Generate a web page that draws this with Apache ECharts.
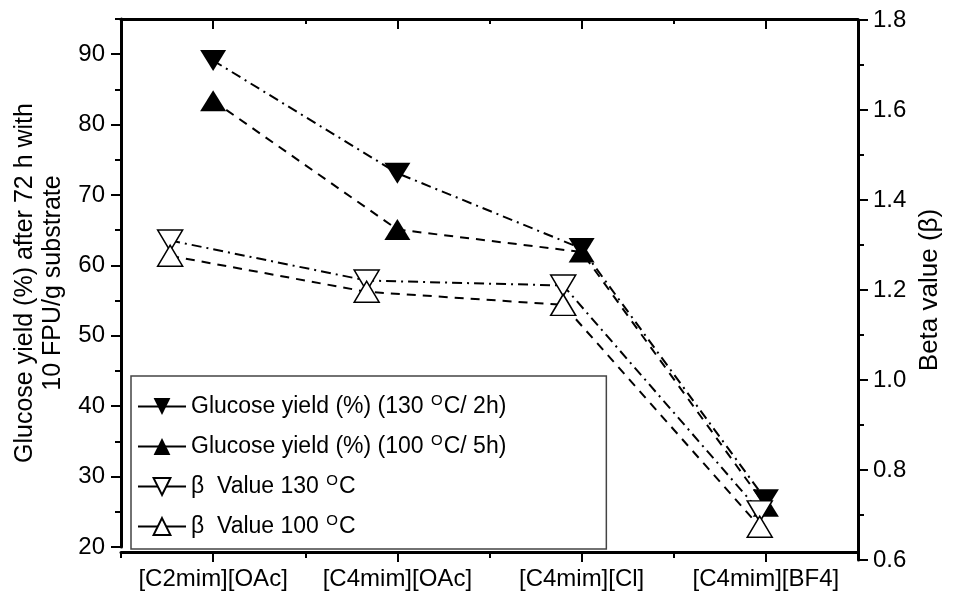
<!DOCTYPE html>
<html>
<head>
<meta charset="utf-8">
<script src="https://cdn.jsdelivr.net/npm/echarts@6/dist/echarts.min.js"></script>
<style>
  html, body { margin: 0; padding: 0; background: #fff; }
  #chart { width: 953px; height: 594px; }
</style>
</head>
<body>
<div id="chart"></div>
<script>
// Ionic liquids pretreatment: glucose yield and Kamlet-Taft beta value
const categories = ['[C2mim][OAc]', '[C4mim][OAc]', '[C4mim][Cl]', '[C4mim][BF4]'];
const catPos = [1, 2, 3, 4];
const catMidPos = [0.5, 1.5, 2.5, 3.5, 4.5];

const glucose130 = [89.1, 73.1, 62.4, 26.7];   // % yield, 130 °C / 2 h
const glucose100 = [83.4, 65.1, 61.9, 25.8];   // % yield, 100 °C / 5 h
const beta130 = [1.31, 1.221, 1.21, 0.708];    // beta value, 130 °C
const beta100 = [1.276, 1.196, 1.167, 0.674];  // beta value, 100 °C

const yieldTicks = [20, 30, 40, 50, 60, 70, 80, 90];
const yieldMinorTicks = [25, 35, 45, 55, 65, 75, 85, 95];
const betaTicks = [0.6, 0.8, 1.0, 1.2, 1.4, 1.6, 1.8];

const seriesNames = [
  'Glucose yield (%) (130 OC/ 2h)',
  'Glucose yield (%) (100 OC/ 5h)',
  'β Value 130 OC',
  'β Value 100 OC'
];
const legendRich = {};
legendRich[seriesNames[0]] = '{t|Glucose yield (%) (130 }{s|O}{t|C/ 2h)}';
legendRich[seriesNames[1]] = '{t|Glucose yield (%) (100 }{s|O}{t|C/ 5h)}';
legendRich[seriesNames[2]] = '{t|β  Value 130 }{s|O}{t|C}';
legendRich[seriesNames[3]] = '{t|β  Value 100 }{s|O}{t|C}';

const FONT = '"Liberation Sans", Arial, Helvetica, sans-serif';
const BLACK = '#000';
const dashDot = [10, 5, 2, 5];
const dashed = [9, 7];

const pairs = (xs, ys) => ys.map((v, i) => [xs[i], v]);

const chart = echarts.init(document.getElementById('chart'), null, { renderer: 'canvas' });

const axisLine = { show: true, lineStyle: { color: BLACK, width: 3 } };

function catAxis(opts) {
  return Object.assign({
    type: 'value', gridIndex: 0, min: 0.5, max: 4.5,
    splitLine: { show: false },
    axisLine: { show: false },
    axisLabel: { show: false },
    axisTick: { show: false }
  }, opts);
}

const option = {
  backgroundColor: '#fff',
  animation: false,
  grid: [
    { left: 121, right: 95, top: 19, bottom: 47 },
    { left: 121, right: 95, top: 20, bottom: 34 }
  ],
  xAxis: [
    // bottom axis with category labels
    catAxis({
      position: 'bottom', offset: 5,
      axisLine: axisLine,
      axisTick: { show: true, inside: false, length: 10, customValues: catPos, lineStyle: { color: BLACK, width: 2 } },
      axisLabel: {
        show: true, customValues: catPos, margin: 15,
        color: BLACK, fontFamily: FONT, fontSize: 24,
        formatter: v => categories[Math.round(v) - 1] || ''
      }
    }),
    // bottom minor ticks between categories
    catAxis({
      position: 'bottom', offset: 5,
      axisTick: { show: true, inside: false, length: 6, customValues: catMidPos, lineStyle: { color: BLACK, width: 2 } }
    }),
    // top frame with inward ticks
    catAxis({
      position: 'top',
      axisLine: axisLine,
      axisTick: { show: true, inside: true, length: 10, customValues: catPos, lineStyle: { color: BLACK, width: 2 } }
    }),
    catAxis({
      position: 'top',
      axisTick: { show: true, inside: true, length: 5, customValues: catMidPos, lineStyle: { color: BLACK, width: 2 } }
    }),
    // x scale of the beta layer
    {
      type: 'value', gridIndex: 1, min: 0.75, max: 4.5, show: false,
      splitLine: { show: false }
    }
  ],
  yAxis: [
    {
      type: 'value', gridIndex: 0, position: 'left', min: 20, max: 95, interval: 10,
      name: 'Glucose yield (%) after 72 h with\n10 FPU/g substrate',
      nameLocation: 'middle', nameRotate: 90, nameGap: 50,
      nameTextStyle: { color: BLACK, fontFamily: FONT, fontSize: 25, lineHeight: 28, align: 'center' },
      splitLine: { show: false },
      axisLine: axisLine,
      axisTick: { show: true, length: 10, customValues: yieldTicks, lineStyle: { color: BLACK, width: 2 } },
      axisLabel: { customValues: yieldTicks, margin: 16, color: BLACK, fontFamily: FONT, fontSize: 24 }
    },
    {
      type: 'value', gridIndex: 0, position: 'left', min: 20, max: 95,
      splitLine: { show: false },
      axisLine: { show: false },
      axisLabel: { show: false },
      axisTick: { show: true, length: 6, customValues: yieldMinorTicks, lineStyle: { color: BLACK, width: 2 } }
    },
    {
      type: 'value', gridIndex: 1, position: 'right', min: 0.6, max: 1.8, interval: 0.2,
      name: 'Beta value (β)',
      nameLocation: 'middle', nameRotate: 90, nameGap: 54,
      nameTextStyle: { color: BLACK, fontFamily: FONT, fontSize: 26 },
      splitLine: { show: false },
      axisLine: axisLine,
      axisTick: { show: true, length: 10, lineStyle: { color: BLACK, width: 2 } },
      minorTick: { show: true, splitNumber: 2, length: 6, lineStyle: { color: BLACK, width: 2 } },
      minorSplitLine: { show: false },
      axisLabel: {
        customValues: betaTicks, margin: 15, color: BLACK, fontFamily: FONT, fontSize: 24,
        formatter: v => v.toFixed(1)
      }
    }
  ],
  legend: {
    show: true,
    left: 131, top: 376,
    orient: 'vertical',
    itemWidth: 48, itemHeight: 21, itemGap: 15,
    padding: [17, 100, 11, 6],
    borderColor: '#444', borderWidth: 1.5,
    backgroundColor: '#fff',
    lineStyle: { type: 'solid', width: 2 },
    data: seriesNames,
    formatter: name => legendRich[name],
    textStyle: {
      color: BLACK, fontFamily: FONT, fontSize: 23,
      rich: {
        t: { color: BLACK, fontFamily: FONT, fontSize: 23 },
        s: { color: BLACK, fontFamily: FONT, fontSize: 15, padding: [0, 1, 12, 1] }
      }
    }
  },
  series: [
    {
      name: seriesNames[0], type: 'line', xAxisIndex: 0, yAxisIndex: 0,
      data: pairs(catPos, glucose130),
      symbol: 'triangle', symbolRotate: 180, symbolSize: [26, 21],
      itemStyle: { color: BLACK },
      lineStyle: { color: BLACK, width: 2, type: dashDot }
    },
    {
      name: seriesNames[1], type: 'line', xAxisIndex: 0, yAxisIndex: 0,
      data: pairs(catPos, glucose100),
      symbol: 'triangle', symbolSize: [26, 21],
      itemStyle: { color: BLACK },
      lineStyle: { color: BLACK, width: 2, type: dashed }
    },
    {
      name: seriesNames[2], type: 'line', xAxisIndex: 4, yAxisIndex: 2,
      data: pairs(catPos, beta130),
      symbol: 'triangle', symbolRotate: 180, symbolSize: [25, 21],
      itemStyle: { color: '#fff', borderColor: BLACK, borderWidth: 1.5 },
      lineStyle: { color: BLACK, width: 2, type: dashDot }
    },
    {
      name: seriesNames[3], type: 'line', xAxisIndex: 4, yAxisIndex: 2,
      data: pairs(catPos, beta100),
      symbol: 'triangle', symbolSize: [25, 21],
      itemStyle: { color: '#fff', borderColor: BLACK, borderWidth: 1.5 },
      lineStyle: { color: BLACK, width: 2, type: dashed }
    }
  ]
};

chart.setOption(option);
</script>
</body>
</html>
